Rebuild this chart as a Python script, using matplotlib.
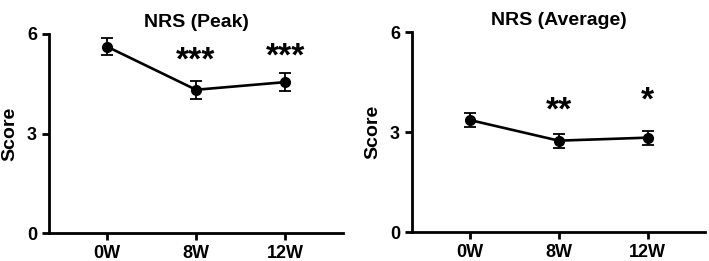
import matplotlib
matplotlib.use("Agg")
import matplotlib.pyplot as plt

plt.rcParams['font.family'] = ['Liberation Sans', 'DejaVu Sans']
plt.rcParams['font.weight'] = 'bold'

semanas = ["0W", "8W", "12W"]

peak_media = [5.62, 4.32, 4.55]
peak_erro = [0.26, 0.27, 0.28]
peak_sig = ["", "***", "***"]
peak_sig_y = [0, 5.17, 5.29]

avg_media = [3.37, 2.75, 2.84]
avg_erro = [0.20, 0.21, 0.21]
avg_sig = ["", "**", "*"]
avg_sig_y = [0, 3.64, 3.94]


def plot_nrs(ax, titulo, media, erro, sig, sig_y):
    x = range(len(semanas))
    ax.errorbar(x, media, yerr=erro, color="black", linewidth=1.9,
                marker="o", markersize=7, capsize=4, capthick=1.3,
                elinewidth=1.3)
    for i, s in enumerate(sig):
        if s:
            ax.text(i, sig_y[i], s, ha="center", va="center",
                    fontsize=24, fontweight="bold")
    ax.set_xlim(-0.65, 2.65)
    ax.set_ylim(0, 6)
    ax.set_yticks([0, 3, 6])
    ax.set_xticks(list(x))
    ax.set_xticklabels(semanas)
    ax.set_title(titulo, fontsize=14, fontweight="bold", pad=5)
    ax.set_ylabel("Score", fontsize=14, fontweight="bold", labelpad=6)
    ax.spines["top"].set_visible(False)
    ax.spines["right"].set_visible(False)
    ax.spines["left"].set_linewidth(2)
    ax.spines["bottom"].set_linewidth(2)
    ax.tick_params(width=2, length=5, labelsize=13)
    for lab in ax.get_xticklabels() + ax.get_yticklabels():
        lab.set_fontweight("bold")


fig = plt.figure(figsize=(7.09, 2.61), dpi=100)
ax1 = fig.add_axes([0.069, 0.106, 0.415, 0.764])
ax2 = fig.add_axes([0.581, 0.110, 0.414, 0.766])

plot_nrs(ax1, "NRS (Peak)", peak_media, peak_erro, peak_sig, peak_sig_y)
plot_nrs(ax2, "NRS (Average)", avg_media, avg_erro, avg_sig, avg_sig_y)

fig.savefig("out.png", dpi=100)
